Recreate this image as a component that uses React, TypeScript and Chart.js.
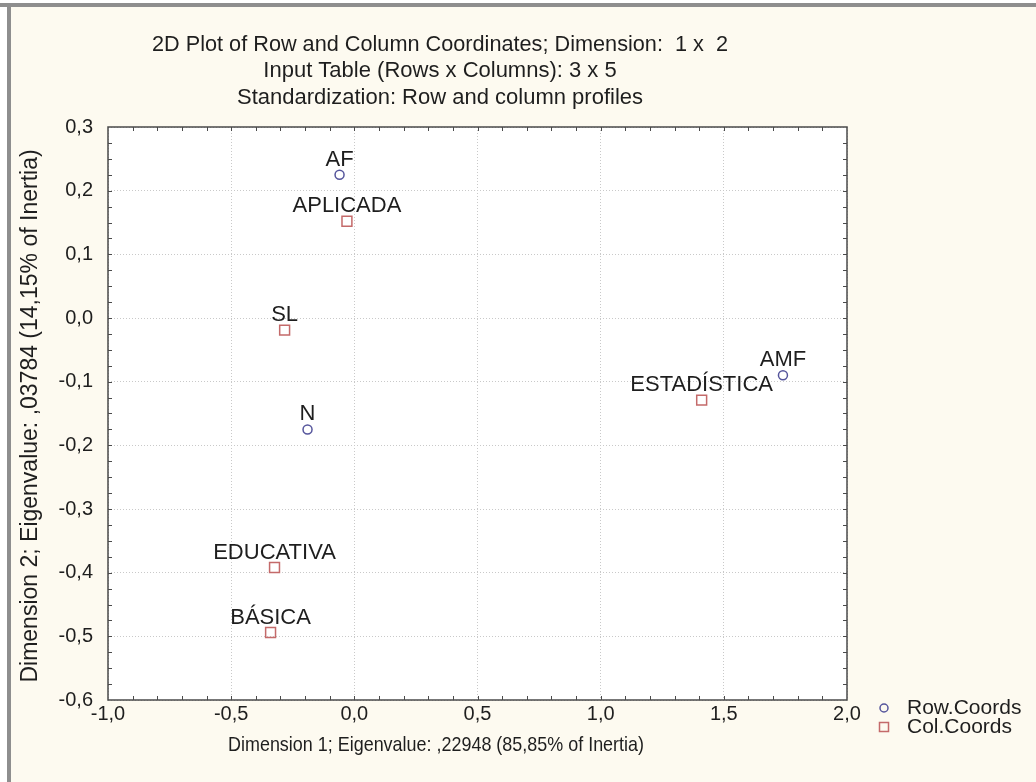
import React, { useEffect, useRef } from 'react';
import { Chart, registerables } from 'chart.js';

Chart.register(...registerables);

const TITLE_LINES = [
  '2D Plot of Row and Column Coordinates; Dimension:  1 x  2',
  'Input Table (Rows x Columns): 3 x 5',
  'Standardization: Row and column profiles',
];
const X_TITLE = 'Dimension 1; Eigenvalue: ,22948 (85,85% of Inertia)';
const Y_TITLE = 'Dimension 2; Eigenvalue: ,03784 (14,15% of Inertia)';

const rowLabels = ['AF', 'N', 'AMF'];
const rowX = [-0.06, -0.19, 1.74];
const rowY = [0.225, -0.175, -0.09];

const colLabels = ['APLICADA', 'SL', 'ESTADÍSTICA', 'EDUCATIVA', 'BÁSICA'];
const colX = [-0.03, -0.283, 1.41, -0.324, -0.34];
const colY = [0.152, -0.019, -0.129, -0.392, -0.494];

const seriesNames = ['Row.Coords', 'Col.Coords'];

const X_MIN = -1.0;
const X_MAX = 2.0;
const X_STEP = 0.5;
const X_MINOR = 0.1;
const Y_MIN = -0.6;
const Y_MAX = 0.3;
const Y_STEP = 0.1;
const Y_MINOR = 0.025;

const ROW_COLOR = '#55559c';
const COL_COLOR = '#c46a6a';
const TEXT_COLOR = '#1e1e1e';
const FONT = '"Liberation Sans", Arial, sans-serif';

const fmt = (v: number) => {
  const n = Math.abs(v) < 1e-9 ? 0 : v;
  return n.toFixed(1).replace('.', ',');
};

const fitText = (ctx: CanvasRenderingContext2D, text: string, x: number, y: number, w: number) => {
  const m = ctx.measureText(text).width;
  const s = Math.min(1, w / m);
  ctx.save();
  ctx.translate(x, y);
  ctx.scale(s, 1);
  ctx.fillText(text, 0, 0);
  ctx.restore();
};

const decorPlugin = {
  id: 'decor',
  beforeDraw(chart: any) {
    const { ctx, chartArea: a, width, height } = chart;
    ctx.save();
    ctx.fillStyle = '#ffffff';
    ctx.fillRect(0, 0, width, height);
    ctx.fillStyle = '#fdfaf0';
    ctx.fillRect(11, 7, width - 11, height - 7);
    ctx.fillStyle = '#8e8e8e';
    ctx.fillRect(0, 3, width, 4);
    ctx.fillRect(7, 3, 4, height - 3);
    ctx.fillStyle = '#ffffff';
    ctx.fillRect(a.left, a.top, a.right - a.left, a.bottom - a.top);
    ctx.restore();
  },
  afterDraw(chart: any) {
    const { ctx, chartArea: a } = chart;
    const xs = chart.scales.x;
    const ys = chart.scales.y;
    ctx.save();
    ctx.strokeStyle = '#4a4a4a';
    ctx.lineWidth = 1.5;
    ctx.strokeRect(a.left, a.top, a.right - a.left, a.bottom - a.top);
    ctx.lineWidth = 1;
    ctx.beginPath();
    const nx = Math.round((X_MAX - X_MIN) / X_MINOR);
    for (let i = 1; i < nx; i++) {
      const px = Math.round(xs.getPixelForValue(X_MIN + i * X_MINOR)) + 0.5;
      ctx.moveTo(px, a.bottom);
      ctx.lineTo(px, a.bottom - 4);
      ctx.moveTo(px, a.top);
      ctx.lineTo(px, a.top + 4);
    }
    const ny = Math.round((Y_MAX - Y_MIN) / Y_MINOR);
    for (let i = 1; i < ny; i++) {
      const py = Math.round(ys.getPixelForValue(Y_MIN + i * Y_MINOR)) + 0.5;
      ctx.moveTo(a.left, py);
      ctx.lineTo(a.left + 4, py);
      ctx.moveTo(a.right, py);
      ctx.lineTo(a.right - 4, py);
    }
    ctx.stroke();

    ctx.fillStyle = TEXT_COLOR;
    ctx.font = `22px ${FONT}`;
    ctx.textAlign = 'center';
    ctx.textBaseline = 'middle';
    const ty = [45, 71, 98];
    TITLE_LINES.forEach((t, i) => fitText(ctx, t, 440, ty[i], 576));
    ctx.font = `21px ${FONT}`;
    fitText(ctx, X_TITLE, 436, 745, 416);
    ctx.save();
    ctx.translate(31, 416);
    ctx.rotate(-Math.PI / 2);
    ctx.font = `23px ${FONT}`;
    ctx.fillText(Y_TITLE, 0, 0);
    ctx.restore();

    const ly = [708, 727];
    const lx = 884;
    ctx.lineWidth = 1.5;
    ctx.strokeStyle = ROW_COLOR;
    ctx.beginPath();
    ctx.arc(lx, ly[0], 4, 0, Math.PI * 2);
    ctx.stroke();
    ctx.strokeStyle = COL_COLOR;
    ctx.strokeRect(lx - 4.5, ly[1] - 4.5, 9, 9);
    ctx.font = `21px ${FONT}`;
    ctx.textAlign = 'left';
    ctx.fillStyle = TEXT_COLOR;
    seriesNames.forEach((n, i) => ctx.fillText(n, 907, ly[i]));
    ctx.restore();
  },
  afterDatasetsDraw(chart: any) {
    const { ctx } = chart;
    ctx.save();
    ctx.font = `22px ${FONT}`;
    ctx.fillStyle = TEXT_COLOR;
    ctx.textAlign = 'center';
    ctx.textBaseline = 'alphabetic';
    chart.data.datasets.forEach((ds: any, di: number) => {
      const meta = chart.getDatasetMeta(di);
      meta.data.forEach((el: any, i: number) => {
        ctx.fillText(ds.labels[i], el.x, el.y - 9);
      });
    });
    ctx.restore();
  },
};

export default function App() {
  const ref = useRef<HTMLCanvasElement | null>(null);
  useEffect(() => {
    if (!ref.current) return;
    const tickFont = { family: FONT, size: 20 };
    const chart = new Chart(ref.current, {
      type: 'scatter',
      data: {
        datasets: [
          {
            label: seriesNames[0],
            labels: rowLabels,
            data: rowX.map((x, i) => ({ x, y: rowY[i] })),
            pointStyle: 'circle',
            pointRadius: 4.5,
            pointBorderWidth: 1.5,
            pointBorderColor: ROW_COLOR,
            pointBackgroundColor: 'rgba(255,255,255,0)',
          } as any,
          {
            label: seriesNames[1],
            labels: colLabels,
            data: colX.map((x, i) => ({ x, y: colY[i] })),
            pointStyle: 'rect',
            pointRadius: 7,
            pointBorderWidth: 1.5,
            pointBorderColor: COL_COLOR,
            pointBackgroundColor: 'rgba(255,255,255,0)',
          } as any,
        ],
      },
      options: {
        animation: false,
        responsive: false,
        layout: { padding: { left: 0, top: 127, right: 189, bottom: 50 } },
        plugins: {
          legend: { display: false },
          title: { display: false },
          tooltip: { enabled: false },
        },
        scales: {
          x: {
            type: 'linear',
            min: X_MIN,
            max: X_MAX,
            ticks: {
              stepSize: X_STEP,
              callback: (v: any) => fmt(Number(v)),
              font: tickFont,
              color: TEXT_COLOR,
              padding: 2,
              maxRotation: 0,
              autoSkip: false,
            },
            grid: { color: '#c9c9c9', drawTicks: false, lineWidth: 1 },
            border: { display: false, dash: [1, 2] },
            afterFit: (s: any) => {
              s.height = 32;
            },
          },
          y: {
            type: 'linear',
            min: Y_MIN,
            max: Y_MAX,
            ticks: {
              stepSize: Y_STEP,
              callback: (v: any) => fmt(Number(v)),
              font: tickFont,
              color: TEXT_COLOR,
              padding: 15,
              autoSkip: false,
            },
            grid: { color: '#c9c9c9', drawTicks: false, lineWidth: 1 },
            border: { display: false, dash: [1, 2] },
            afterFit: (s: any) => {
              s.width = 108;
            },
          },
        },
      } as any,
      plugins: [decorPlugin],
    });
    return () => chart.destroy();
  }, []);
  return (
    <div style={{ position: 'absolute', left: 0, top: 0, width: 1036, height: 782 }}>
      <canvas ref={ref} width={1036} height={782} style={{ display: 'block' }} />
    </div>
  );
}
